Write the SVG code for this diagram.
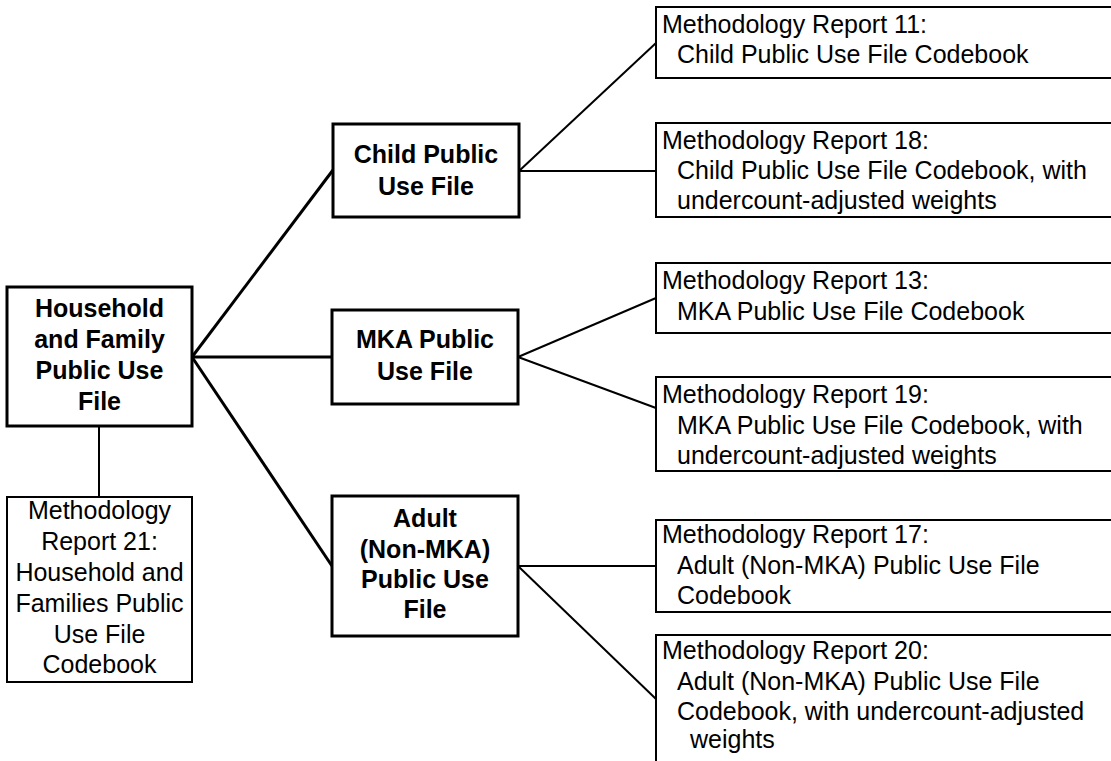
<svg xmlns="http://www.w3.org/2000/svg" width="1111" height="761" viewBox="0 0 1111 761">
<style>
.bx{fill:#fff;stroke:#000;stroke-width:3}
.rb{fill:#fff;stroke:#000;stroke-width:2}
.b{font-family:"Liberation Sans",Arial,sans-serif;font-size:25px;font-weight:bold;fill:#000;text-anchor:middle}
.r{font-family:"Liberation Sans",Arial,sans-serif;font-size:25px;fill:#000}
.rc{text-anchor:middle}
.ct{stroke:#000;stroke-width:3;fill:none}
.cn{stroke:#000;stroke-width:2;fill:none}
</style>
<rect width="1111" height="761" fill="#fff"/>
<g id="connectors">
<line class="ct" x1="192" y1="357" x2="333" y2="170"/>
<line class="ct" x1="192" y1="357" x2="332" y2="357"/>
<line class="ct" x1="192" y1="357" x2="332" y2="566"/>
<line class="cn" x1="99" y1="426" x2="99" y2="497"/>
<line class="cn" x1="519" y1="171" x2="656" y2="43"/>
<line class="cn" x1="519" y1="171" x2="656" y2="171"/>
<line class="cn" x1="518" y1="357" x2="656" y2="298"/>
<line class="cn" x1="518" y1="357" x2="656" y2="408"/>
<line class="cn" x1="518" y1="566" x2="656" y2="566"/>
<line class="cn" x1="518" y1="566" x2="656" y2="699"/>
</g>
<g id="household">
<rect class="bx" x="7" y="287" width="185" height="139"/>
<text class="b" x="99.5" y="317">Household</text>
<text class="b" x="99.5" y="348">and Family</text>
<text class="b" x="99.5" y="379">Public Use</text>
<text class="b" x="99.5" y="410">File</text>
</g>
<g id="report21">
<rect class="rb" x="7" y="497" width="185" height="185"/>
<text class="r rc" x="99.5" y="519">Methodology</text>
<text class="r rc" x="99.5" y="550">Report 21:</text>
<text class="r rc" x="99.5" y="581">Household and</text>
<text class="r rc" x="99.5" y="612">Families Public</text>
<text class="r rc" x="99.5" y="643">Use File</text>
<text class="r rc" x="99.5" y="673">Codebook</text>
</g>
<g id="child">
<rect class="bx" x="333" y="124" width="186" height="93"/>
<text class="b" x="426" y="163">Child Public</text>
<text class="b" x="426" y="195">Use File</text>
</g>
<g id="mka">
<rect class="bx" x="332" y="310" width="186" height="94"/>
<text class="b" x="425" y="348">MKA Public</text>
<text class="b" x="425" y="380">Use File</text>
</g>
<g id="adult">
<rect class="bx" x="332" y="496" width="186" height="140"/>
<text class="b" x="425" y="527">Adult</text>
<text class="b" x="425" y="558">(Non-MKA)</text>
<text class="b" x="425" y="588">Public Use</text>
<text class="b" x="425" y="618">File</text>
</g>
<g id="report11">
<rect class="rb" x="656" y="7" width="480" height="71"/>
<text class="r" x="662" y="33">Methodology Report 11:</text>
<text class="r" x="677" y="63">Child Public Use File Codebook</text>
</g>
<g id="report18">
<rect class="rb" x="656" y="123" width="480" height="94"/>
<text class="r" x="662" y="149">Methodology Report 18:</text>
<text class="r" x="677" y="179">Child Public Use File Codebook, with</text>
<text class="r" x="677" y="209">undercount-adjusted weights</text>
</g>
<g id="report13">
<rect class="rb" x="656" y="263" width="480" height="70"/>
<text class="r" x="662" y="289">Methodology Report 13:</text>
<text class="r" x="677" y="320">MKA Public Use File Codebook</text>
</g>
<g id="report19">
<rect class="rb" x="656" y="377" width="480" height="94"/>
<text class="r" x="662" y="403">Methodology Report 19:</text>
<text class="r" x="677" y="434">MKA Public Use File Codebook, with</text>
<text class="r" x="677" y="464">undercount-adjusted weights</text>
</g>
<g id="report17">
<rect class="rb" x="656" y="520" width="480" height="92"/>
<text class="r" x="662" y="543">Methodology Report 17:</text>
<text class="r" x="677" y="574">Adult (Non-MKA) Public Use File</text>
<text class="r" x="677" y="604">Codebook</text>
</g>
<g id="report20">
<rect class="rb" x="656" y="635" width="480" height="180"/>
<text class="r" x="662" y="659">Methodology Report 20:</text>
<text class="r" x="677" y="690">Adult (Non-MKA) Public Use File</text>
<text class="r" x="677" y="720">Codebook, with undercount-adjusted</text>
<text class="r" x="690" y="748">weights</text>
</g>
</svg>
